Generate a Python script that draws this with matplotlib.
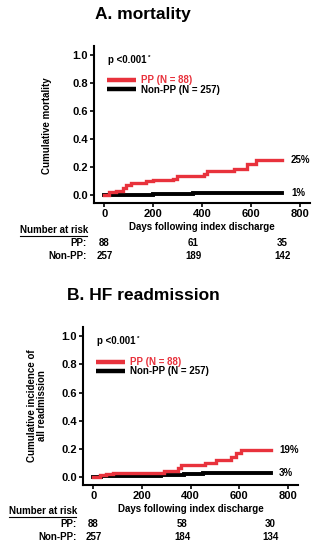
import matplotlib

matplotlib.use("Agg")
import matplotlib.pyplot as plt
from matplotlib.lines import Line2D
from matplotlib.transforms import blended_transform_factory

plt.rcParams["font.family"] = ["Liberation Sans", "DejaVu Sans"]
plt.rcParams["font.weight"] = "bold"

ROJO = "#e8323c"

# ---------------------------------------------------------------------------
# Datos
# ---------------------------------------------------------------------------
# A. mortalidad
dias_a_pp = [0, 20, 48, 76, 87, 110, 145, 172, 200, 283, 297, 365, 407, 420, 530, 586, 620, 730]
inc_a_pp = [0, 0.02, 0.03, 0.05, 0.07, 0.085, 0.09, 0.10, 0.11, 0.115, 0.135, 0.14,
            0.155, 0.175, 0.19, 0.225, 0.25, 0.25]
dias_a_non = [0, 30, 100, 200, 280, 365, 730]
inc_a_non = [0, 0.003, 0.005, 0.008, 0.01, 0.013, 0.013]

# B. reingreso IC
dias_b_pp = [0, 27, 53, 80, 290, 347, 360, 460, 507, 567, 587, 607, 730]
inc_b_pp = [0, 0.017, 0.025, 0.032, 0.045, 0.068, 0.085, 0.10, 0.12, 0.146, 0.17, 0.19, 0.19]
dias_b_non = [0, 15, 30, 87, 280, 373, 453, 730]
inc_b_non = [0, 0.003, 0.006, 0.012, 0.017, 0.024, 0.032, 0.032]

dias_riesgo = [0, 365, 730]
riesgo_a_pp = [88, 61, 35]
riesgo_a_non = [257, 189, 142]
riesgo_b_pp = [88, 58, 30]
riesgo_b_non = [257, 184, 134]

final_a = ["25%", "1%"]
final_b = ["19%", "3%"]

titulos = ["A. mortality", "B. HF readmission"]
ylabels = ["Cumulative mortality", "Cumulative incidence of\nall readmission"]

W, H = 320, 550
fig = plt.figure(figsize=(W / 100, H / 100), dpi=100)


def fx(px):
    return px / W


def fy(py):
    return 1 - py / H


def panel(rect, dias_pp, inc_pp, dias_non, inc_non, finales, riesgo_pp, riesgo_non,
          titulo, ylabel, title_y, ylab_x, ylab_y, nar_x, nar_y, etq_x, nar_line):
    ax = fig.add_axes(rect)
    ax.step(dias_non, inc_non, where="post", color="black", lw=2.8, solid_joinstyle="miter")
    ax.step(dias_pp, inc_pp, where="post", color=ROJO, lw=2.4, solid_joinstyle="miter")
    ax.set_xlim(-43, 843)
    ax.set_ylim(-0.055, 1.065)
    ax.set_xticks([0, 200, 400, 600, 800])
    ax.set_yticks([0.0, 0.2, 0.4, 0.6, 0.8, 1.0])
    ax.set_yticklabels(["0.0", "0.2", "0.4", "0.6", "0.8", "1.0"])
    for s in ["top", "right"]:
        ax.spines[s].set_visible(False)
    for s in ["left", "bottom"]:
        ax.spines[s].set_linewidth(1.5)
    ax.tick_params(direction="out", length=3, width=1.2, labelsize=8, pad=1.5)
    for lbl in ax.get_xticklabels() + ax.get_yticklabels():
        lbl.set_fontweight("bold")
    ax.set_xlabel("Days following index discharge", fontsize=7, fontweight="bold", labelpad=2)

    # valores finales
    ax.text(765, inc_pp[-1], finales[0], fontsize=7, fontweight="bold", va="center")
    ax.text(765, inc_non[-1], finales[1], fontsize=7, fontweight="bold", va="center")

    # p-valor y leyenda
    pval = ax.text(16, 0.965, "p <0.001", fontsize=7, fontweight="bold", va="center")
    ax.annotate("*", xy=(1, 0.75), xycoords=pval, xytext=(0.5, 0), textcoords="offset points",
                fontsize=4.5, fontweight="bold", ha="left", va="center")
    ax.plot([12, 130], [0.82, 0.82], color=ROJO, lw=3.2, solid_capstyle="butt")
    ax.plot([12, 130], [0.755, 0.755], color="black", lw=3.2, solid_capstyle="butt")
    ax.text(150, 0.82, "PP (N = 88)", color=ROJO, fontsize=7, fontweight="bold", va="center")
    ax.text(150, 0.75, "Non-PP (N = 257)", color="black", fontsize=7, fontweight="bold", va="center")

    fig.text(0.447, fy(title_y), titulo, fontsize=12.5, fontweight="bold", ha="center", va="center")
    fig.text(fx(ylab_x), fy(ylab_y), ylabel, fontsize=7, fontweight="bold", rotation=90,
             ha="center", va="center", linespacing=1.0)

    # numero en riesgo
    fig.text(fx(nar_x), fy(nar_y), "Number at risk", fontsize=7, fontweight="bold", va="center")
    fig.add_artist(Line2D([fx(nar_line[0]), fx(nar_line[1])], [fy(nar_y + 6)] * 2,
                          color="black", lw=0.8, transform=fig.transFigure))
    tr = blended_transform_factory(ax.transData, fig.transFigure)
    fig.text(fx(etq_x), fy(nar_y + 13), "PP:", fontsize=7, fontweight="bold", ha="right", va="center")
    fig.text(fx(etq_x), fy(nar_y + 26), "Non-PP:", fontsize=7, fontweight="bold", ha="right", va="center")
    for d, a, b in zip(dias_riesgo, riesgo_pp, riesgo_non):
        ax.text(d, fy(nar_y + 13), str(a), transform=tr, fontsize=7, fontweight="bold",
                ha="center", va="center")
        ax.text(d, fy(nar_y + 26), str(b), transform=tr, fontsize=7, fontweight="bold",
                ha="center", va="center")
    return ax


panel([fx(94), fy(203), fx(216), (203 - 46) / H], dias_a_pp, inc_a_pp, dias_a_non, inc_a_non,
      final_a, riesgo_a_pp, riesgo_a_non, titulos[0], ylabels[0],
      15, 47, 126, 20, 230, 87, (20, 87))
panel([fx(83), fy(485), fx(215), (485 - 327) / H], dias_b_pp, inc_b_pp, dias_b_non, inc_b_non,
      final_b, riesgo_b_pp, riesgo_b_non, titulos[1], ylabels[1],
      295, 37, 406, 9, 511, 77, (9, 76))

fig.savefig("out.png", dpi=100)
